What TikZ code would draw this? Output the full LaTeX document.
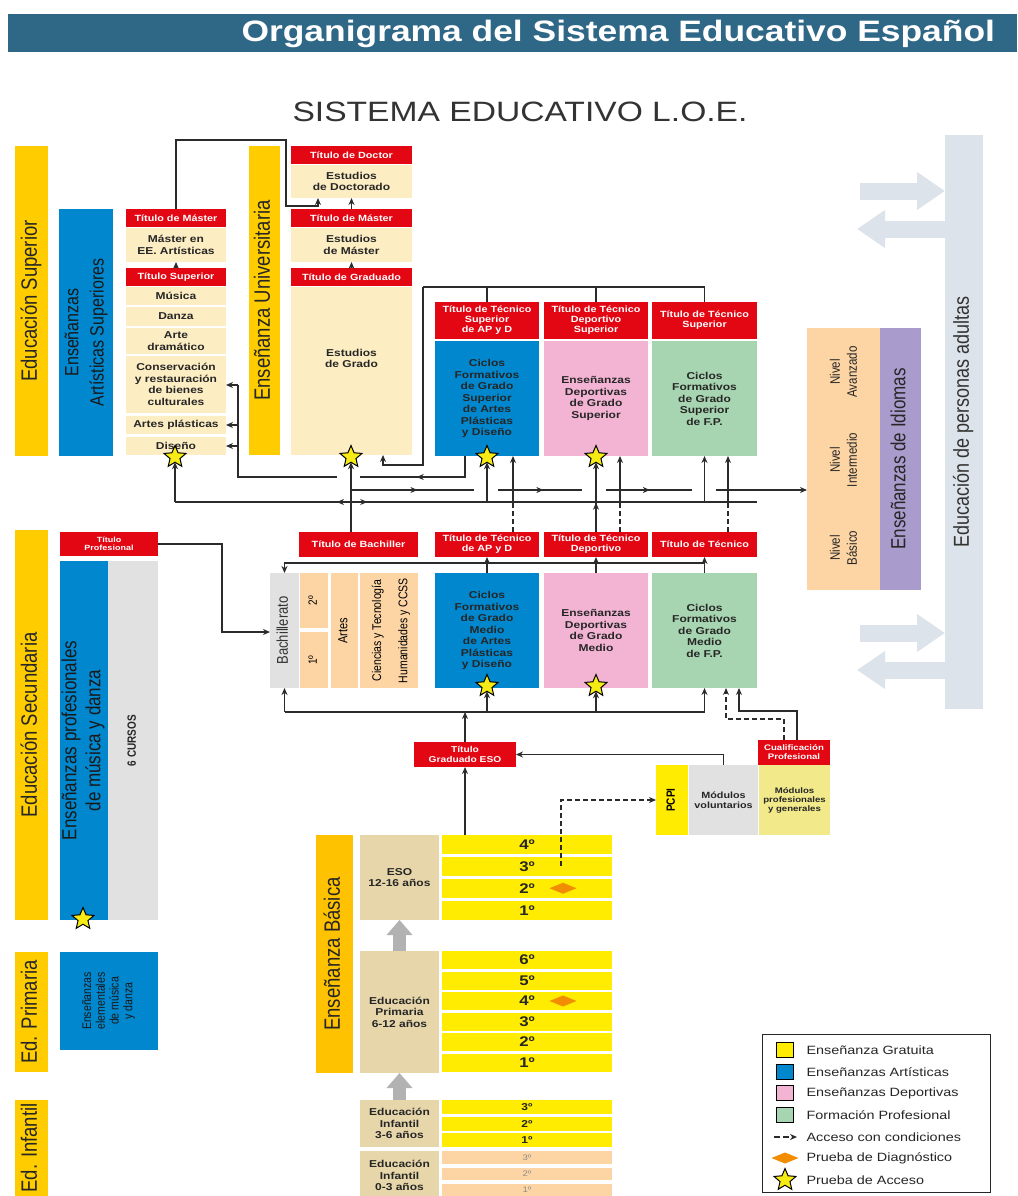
\documentclass[tikz,border=0pt]{standalone}
\usepackage{fontspec}
\setmainfont{Liberation Sans}[FakeStretch=1.2]
\newfontfamily\rotfont{Liberation Sans}
\usepackage{graphicx}
\usetikzlibrary{arrows.meta,positioning,shapes.geometric,decorations.markings}
\definecolor{hdr}{HTML}{2F6887}
\definecolor{tred}{HTML}{E30613}
\definecolor{cream}{HTML}{FDEDC3}
\definecolor{eblue}{HTML}{0087CE}
\definecolor{epink}{HTML}{F3B4D4}
\definecolor{egreen}{HTML}{A8D5B1}
\definecolor{peach}{HTML}{FDD5A5}
\definecolor{etan}{HTML}{E7D6A9}
\definecolor{lyel}{HTML}{FFCC00}
\definecolor{byel}{HTML}{FFC200}
\definecolor{yyel}{HTML}{FFEC00}
\definecolor{khaki}{HTML}{F1E98A}
\definecolor{lgray}{HTML}{E1E1E1}
\definecolor{purp}{HTML}{A99BCB}
\definecolor{adgray}{HTML}{DDE3EA}
\definecolor{dorange}{HTML}{F28C00}
\definecolor{styel}{HTML}{F6EB14}
\definecolor{arrgray}{HTML}{B2B2B2}
\definecolor{lnc}{HTML}{2B2B2B}
\newcommand{\vt}[1]{\rotatebox{90}{\scalebox{1}[1.2]{\begin{tabular}{@{}c@{}}#1\end{tabular}}}}

\begin{document}
\begin{tikzpicture}[x=1pt, y=-1pt,
  every node/.style={inner sep=0pt, outer sep=0pt},
  wh/.style 2 args={minimum width=#1pt, minimum height=#2pt},
  lbar/.style={fill=lyel, text=black!85, font=\rotfont\fontsize{18.5}{22}\selectfont},
  tit/.style={fill=tred, text=white, align=center, font=\bfseries\fontsize{9}{10}\selectfont},
  crm/.style={fill=cream, text=black!85, align=center, font=\bfseries\fontsize{10}{11.5}\selectfont},
  ciclo/.style={text=black!85, align=center, font=\bfseries\fontsize{10}{11.5}\selectfont},
  yr/.style={fill=yyel, minimum width=170pt, text=black!85, font=\bfseries\fontsize{14}{14}\selectfont},
  tanb/.style={fill=etan, minimum width=79pt, align=center, text=black!85, font=\bfseries\fontsize{10}{11.5}\selectfont},
  pacc/.style={star, star points=5, star point ratio=2.2, minimum size=23pt, fill=styel, draw=black, line width=1pt},
  diag/.style={diamond, aspect=2.4, minimum width=27pt, minimum height=11pt, fill=dorange},
  ln/.style={draw=lnc, line width=1.6pt},
  dsh/.style={dash pattern=on 5pt off 3pt},
  arr/.style={ln, -{Stealth[length=7pt, width=6pt]}},
  marr/.style={postaction={decorate}, decoration={markings,
      mark=at position #1 with {\arrow{Stealth[length=7pt, width=6pt]}}}},
  garr/.style={draw=arrgray, line width=13pt, -{Triangle[length=15pt, width=25pt]}},
  bigarr/.style={draw=adgray, line width=17pt, -{Triangle[length=28pt, width=36pt]}},
  lsq/.style={draw=black, line width=1pt, wh={17}{15}},
  ltx/.style={font=\fontsize{12}{12}\selectfont, text=black!85}
]
\fill[white] (0,0) rectangle (1017,1196);
\useasboundingbox (0,0) rectangle (1017,1196);

% heading
\node[fill=hdr, wh={1009}{38}] (hbar) at (512.5,33) {};
\node[anchor=east, text=white, font=\bfseries\fontsize{29.5}{30}\selectfont] (htxt) at (995,34)
  {Organigrama del Sistema Educativo Español};
\node[text=black!80, font=\fontsize{28}{28}\selectfont] (stit) at (520,112)
  {SISTEMA EDUCATIVO L.O.E.};

% stage bars
\node[lbar, wh={33}{310}] (esup) at (31.5,301) {\vt{Educación Superior}};
\node[lbar, wh={33}{390}] (esec) at (31.5,725) {\vt{Educación Secundaria}};
\node[lbar, wh={33}{120}] (epri) at (31.5,1012) {\vt{Ed. Primaria}};
\node[lbar, wh={33}{96}] (einf) at (31.5,1148) {\vt{Ed. Infantil}};

% artistic higher studies
\node[fill=eblue, wh={54}{247}, text=black!90, font=\rotfont\fontsize{16}{21}\selectfont] (artsup)
  at (86,332.5) {\vt{Enseñanzas\\Artísticas Superiores}};
\node[tit, wh={100}{18}] (tMasA) at (176,218) {Título de Máster};
\node[crm, wh={100}{34}] (masA) at (176,245) {Máster en\\EE. Artísticas};
\node[tit, wh={100}{18}] (tSup) at (176,277) {Título Superior};
\node[crm, wh={100}{18}] (mus) at (176,296) {Música};
\node[crm, wh={100}{19}] (dan) at (176,316.5) {Danza};
\node[crm, wh={100}{26}] (arte) at (176,341) {Arte\\dramático};
\node[crm, wh={100}{57}] (cons) at (176,384.5) {Conservación\\y restauración\\de bienes\\culturales};
\node[crm, wh={100}{18}] (artP) at (176,425) {Artes plásticas};
\node[crm, wh={100}{18}] (dis) at (176,446) {Diseño};

% university
\node[lbar, wh={31}{309}] (euniv) at (264.5,300.5) {\vt{Enseñanza Universitaria}};
\node[tit, wh={121}{18}] (tDoc) at (351.5,155) {Título de Doctor};
\node[crm, wh={121}{33}] (doc) at (351.5,181.5) {Estudios\\de Doctorado};
\node[tit, wh={121}{18}] (tMasU) at (351.5,218) {Título de Máster};
\node[crm, wh={121}{34}] (masU) at (351.5,245) {Estudios\\de Máster};
\node[tit, wh={121}{18}] (tGrad) at (351.5,277) {Título de Graduado};
\node[crm, wh={121}{168}] (grado) at (351.5,371) {Estudios\\de Grado\\[14pt]};

% higher vocational cycles
\node[tit, wh={104}{37}] (tTSa) at (487,320.5) {Título de Técnico\\Superior\\de AP y D};
\node[tit, wh={104}{37}] (tTSd) at (596,320.5) {Título de Técnico\\Deportivo\\Superior};
\node[tit, wh={105}{37}] (tTSf) at (704.5,320.5) {Título de Técnico\\Superior};
\node[ciclo, fill=eblue, wh={104}{115}] (ciSa) at (487,398.5)
  {Ciclos\\Formativos\\de Grado\\Superior\\de Artes\\Plásticas\\y Diseño};
\node[ciclo, fill=epink, wh={104}{115}] (ciSd) at (596,398.5)
  {Enseñanzas\\Deportivas\\de Grado\\Superior};
\node[ciclo, fill=egreen, wh={105}{115}] (ciSf) at (704.5,398.5)
  {Ciclos\\Formativos\\de Grado\\Superior\\de F.P.};

% secondary
\node[tit, wh={98}{24}, font=\bfseries\fontsize{7.5}{8.5}\selectfont] (tProf) at (109,544) {Título\\Profesional};
\node[fill=eblue, wh={47}{359}, text=black!90, font=\rotfont\fontsize{17}{20}\selectfont] (epMD)
  at (83.5,740.5) {\vt{Enseñanzas profesionales\\de música y danza}};
\node[fill=lgray, wh={50}{359}, text=black!85, font=\rotfont\bfseries\fontsize{10}{12}\selectfont] (cursos)
  at (133,740.5) {\vt{6 CURSOS}};
\node[fill=eblue, wh={98}{98}, text=black!90, font=\rotfont\fontsize{10.5}{11.5}\selectfont] (elem)
  at (109,1001) {\vt{Enseñanzas\\elementales\\de música\\y danza}};

\node[fill=lgray, wh={29}{115}, text=black!80, font=\rotfont\fontsize{13}{14}\selectfont] (bach)
  at (284.5,630.5) {\vt{Bachillerato}};
\node[fill=peach, wh={28}{55}, font=\rotfont\fontsize{10}{12}\selectfont] (b2) at (314,600.5) {\vt{2º}};
\node[fill=peach, wh={28}{56}, font=\rotfont\fontsize{10}{12}\selectfont] (b1) at (314,660) {\vt{1º}};
\node[fill=peach, wh={27}{115}, font=\rotfont\fontsize{11}{12}\selectfont] (artes) at (344.5,630.5) {\vt{Artes}};
\node[fill=peach, wh={58}{115}, font=\rotfont\fontsize{10.5}{22}\selectfont] (cyt)
  at (389,630.5) {\vt{Ciencias y Tecnología\\Humanidades y CCSS}};
\node[tit, wh={119}{25}] (tBach) at (358.5,544.5) {Título de Bachiller};

\node[tit, wh={104}{25}] (tTA) at (487,544.5) {Título de Técnico\\de AP y D};
\node[tit, wh={104}{25}] (tTD) at (596,544.5) {Título de Técnico\\Deportivo};
\node[tit, wh={105}{25}] (tTF) at (704.5,544.5) {Título de Técnico};
\node[ciclo, fill=eblue, wh={104}{115}] (ciMa) at (487,630.5)
  {Ciclos\\Formativos\\de Grado\\Medio\\de Artes\\Plásticas\\y Diseño};
\node[ciclo, fill=epink, wh={104}{115}] (ciMd) at (596,630.5)
  {Enseñanzas\\Deportivas\\de Grado\\Medio};
\node[ciclo, fill=egreen, wh={105}{115}] (ciMf) at (704.5,630.5)
  {Ciclos\\Formativos\\de Grado\\Medio\\de F.P.};

\node[tit, wh={102}{25}, font=\bfseries\fontsize{8.5}{9.5}\selectfont] (tESO) at (465,754.5) {Título\\Graduado ESO};
\node[tit, wh={72}{25}, font=\bfseries\fontsize{8}{9}\selectfont] (cual) at (794,752.5) {Cualificación\\Profesional};
\node[fill=yyel, wh={32}{70}, font=\rotfont\bfseries\fontsize{10}{12}\selectfont] (pcpi) at (672,800) {\vt{PCPI}};
\node[ciclo, fill=lgray, wh={69}{70}, font=\bfseries\fontsize{9}{10}\selectfont] (mVol) at (723.5,800) {Módulos\\voluntarios};
\node[ciclo, fill=khaki, wh={71}{70}, font=\bfseries\fontsize{8}{9}\selectfont] (mPro) at (794.5,800) {Módulos\\profesionales\\y generales};

% basic education
\node[fill=byel, wh={37}{238}, text=black!85, font=\rotfont\fontsize{18.5}{22}\selectfont] (ebas)
  at (334.5,954) {\vt{Enseñanza Básica}};
\node[tanb, minimum height=85pt] (tESOb) at (399.5,877.5) {ESO\\12-16 años};
\node[tanb, minimum height=122pt] (tPri) at (399.5,1012) {Educación\\Primaria\\6-12 años};
\node[tanb, minimum height=47pt] (tInf1) at (399.5,1123.5) {Educación\\Infantil\\3-6 años};
\node[tanb, minimum height=49pt] (tInf0) at (399.5,1175.5) {Educación\\Infantil\\0-3 años};

\node[yr, minimum height=18.5pt] (eso4) at (527,844.25) {4º};
\node[yr, minimum height=18.5pt] (eso3) at (527,866.25) {3º};
\node[yr, minimum height=18.5pt] (eso2) at (527,888.25) {2º};
\node[yr, minimum height=18.5pt] (eso1) at (527,910.25) {1º};
\node[yr, minimum height=18pt] (pri6) at (527,960) {6º};
\node[yr, minimum height=18pt] (pri5) at (527,980.5) {5º};
\node[yr, minimum height=18pt] (pri4) at (527,1001) {4º};
\node[yr, minimum height=18pt] (pri3) at (527,1021.5) {3º};
\node[yr, minimum height=18pt] (pri2) at (527,1042) {2º};
\node[yr, minimum height=18pt] (pri1) at (527,1062.5) {1º};
\node[yr, minimum height=14pt, font=\bfseries\fontsize{10}{10}\selectfont] (inf3) at (527,1107) {3º};
\node[yr, minimum height=14pt, font=\bfseries\fontsize{10}{10}\selectfont] (inf2) at (527,1124) {2º};
\node[yr, minimum height=14pt, font=\bfseries\fontsize{10}{10}\selectfont] (inf1) at (527,1140) {1º};
\node[yr, fill=peach, minimum height=13pt, text=black!45, font=\fontsize{8}{8}\selectfont] (ini3) at (527,1157.5) {3º};
\node[yr, fill=peach, minimum height=12pt, text=black!45, font=\fontsize{8}{8}\selectfont] (ini2) at (527,1174) {2º};
\node[yr, fill=peach, minimum height=12pt, text=black!45, font=\fontsize{8}{8}\selectfont] (ini1) at (527,1190) {1º};
\node[diag] (dg1) at (563,888.25) {};
\node[diag] (dg2) at (563,1001) {};

% languages and adults
\node[fill=peach, wh={73}{262}] (idiN) at (843.5,459) {};
\node[fill=purp, wh={41}{262}, text=black!85, font=\rotfont\fontsize{17}{20}\selectfont] (idiP)
  at (900.5,459) {\vt{Enseñanzas de Idiomas}};
\node[text=black!85, font=\rotfont\fontsize{11.5}{14}\selectfont] (nB) at (845,548) {\vt{Nivel\\Básico}};
\node[text=black!85, font=\rotfont\fontsize{11.5}{14}\selectfont] (nI) at (845,460) {\vt{Nivel\\Intermedio}};
\node[text=black!85, font=\rotfont\fontsize{11.5}{14}\selectfont] (nA) at (845,372) {\vt{Nivel\\Avanzado}};
\node[fill=adgray, wh={38}{574}, text=black!80, font=\rotfont\fontsize{18}{20}\selectfont] (adult)
  at (964,422) {\vt{Educación de personas adultas}};
\coordinate (kR1) at (860,191);
\coordinate (kR2) at (857,229);
\coordinate (kR3) at (860,633);
\coordinate (kR4) at (857,670);
\draw[bigarr] (kR1) -- (kR1 -| adult.west);
\draw[bigarr] (kR2 -| adult.west) -- (kR2);
\draw[bigarr] (kR3) -- (kR3 -| adult.west);
\draw[bigarr] (kR4 -| adult.west) -- (kR4);

% access tests
\node[pacc] (sDis) at (175,457) {};
\node[pacc] (sGr) at (351,457) {};
\node[pacc] (sTSa) at (487,457) {};
\node[pacc] (sTSd) at (596,457) {};
\node[pacc] (sMa) at (487,686) {};
\node[pacc] (sMd) at (596,686) {};
\node[pacc] (sProf) at (83,919) {};

% junction points
\coordinate (kM1) at (286,140);
\coordinate (kM2) at (318,206);
\coordinate (kT) at (423,287);
\coordinate (kG) at (383,465);
\coordinate (kA0) at (465,477);
\coordinate (kA1) at (360,477);
\coordinate (kA2) at (337,477);
\coordinate (kA3) at (238,385);
\coordinate (kB) at (351,502);
\coordinate (kBl) at (175,502);
\coordinate (kBr) at (757,502);
\coordinate (kI1) at (351,490);
\coordinate (kI2) at (474,490);
\coordinate (kI3) at (498,490);
\coordinate (kI4) at (582,490);
\coordinate (kI5) at (606,490);
\coordinate (kI6) at (692,490);
\coordinate (kI7) at (716,490);
\coordinate (kDa) at (513,502);
\coordinate (kDd) at (620,502);
\coordinate (kDf) at (728,502);
\coordinate (kC) at (284.5,563);
\coordinate (kP) at (222,632);
\coordinate (kE) at (465,712);
\coordinate (kQ1) at (797,711);
\coordinate (kQ2) at (739,711);
\coordinate (kQ3) at (784,719);
\coordinate (kQ4) at (726,719);
\coordinate (kS) at (561,866);

% upper links
\draw[arr] (tMasA.north) |- (kM1) |- (kM2) -- (kM2 |- doc.south);
\draw[arr] (tMasU) -- (doc);
\draw[arr] (tGrad) -- (masU);
\draw[arr] (tSup) -- (masA);
\draw[ln] (tTSf.north) |- (kT);
\draw[ln] (tTSa.north) -- (tTSa.north |- kT);
\draw[ln] (tTSd.north) -- (tTSd.north |- kT);
\draw[arr] (kT) |- (kG) -- (kG |- grado.south);
\draw[ln, marr=0.55] (kA0 |- ciSa.south) -- (kA0) -- (kA1);
\draw[ln] (kA2) -| (kA3);
\draw[arr] (kA3) -- (kA3 -| cons.east);
\draw[arr] (kA3 |- artP) -- (artP);
\draw[arr] (kA3 |- dis) -- (dis);

% from bachiller and technicians
\draw[arr] (sGr |- tBach.north) -- (sGr);
\draw[ln, marr=0.54] (kI1) -- (kI2);
\draw[ln, marr=0.54] (kI3) -- (kI4);
\draw[ln, marr=0.51] (kI5) -- (kI6);
\draw[arr] (kI7) -- (kI7 -| idiN.west);
\draw[ln, marr=0.08] (kB) -- (kBl);
\draw[ln, marr=0.04] (kB) -- (kBr);
\draw[arr] (kBl) -- (sDis);
\draw[arr] (sTSa |- kB) -- (sTSa);
\draw[arr] (ciSf.south |- kB) -- (ciSf.south);
\draw[arr, marr=0.42] (tTD.north) -- (sTSd);
\draw[ln, dsh] (kDa |- tTA.north) -- (kDa);
\draw[arr] (kDa) -- (kDa |- ciSa.south);
\draw[ln, dsh] (kDd |- tTD.north) -- (kDd);
\draw[arr] (kDd) -- (kDd |- ciSd.south);
\draw[ln, dsh] (kDf |- tTF.north) -- (kDf);
\draw[arr] (kDf) -- (kDf |- ciSf.south);

% middle row
\draw[arr] (ciMf.north |- kC) -- (kC) -- (bach.north);
\draw[arr] (ciMa) -- (tTA);
\draw[arr] (ciMd) -- (tTD);
\draw[arr] (ciMf) -- (tTF);
\draw[arr] (tProf.east) -| (kP) -- (kP -| bach.west);

\draw[arr] (tESO) -- (kE);
\draw[ln] (bach.south |- kE) -- (ciMf.south |- kE);
\draw[arr] (bach.south |- kE) -- (bach.south);
\draw[arr] (sMa |- kE) -- (sMa);
\draw[arr] (sMd |- kE) -- (sMd);
\draw[arr] (ciMf.south |- kE) -- (ciMf.south);
\draw[arr] (eso4.north -| tESO) -- (tESO);
\draw[arr] (mVol.north) |- (tESO.east);
\draw[arr] (kQ1 |- cual.north) -- (kQ1) -- (kQ2) -- (kQ2 |- ciMf.south);
\draw[arr, dsh] (kQ3 |- cual.north) -- (kQ3) -- (kQ4) -- (kQ4 |- ciMf.south);
\draw[arr, dsh] (kS) |- (pcpi.west);

\draw[garr] (tPri.north) -- (tESOb.south);
\draw[garr] (tInf1.north) -- (tPri.south);

% legend
\node[draw=black!85, line width=1pt, wh={228}{158}] (leg) at (876,1113) {};
\node[lsq, fill=yyel] (lq1) at (785,1050) {};
\node[ltx, right=13pt of lq1] (lt1) {Enseñanza Gratuita};
\node[lsq, fill=eblue] (lq2) at (785,1072) {};
\node[ltx, right=13pt of lq2] (lt2) {Enseñanzas Artísticas};
\node[lsq, fill=epink] (lq3) at (785,1093) {};
\node[ltx, right=13pt of lq3] (lt3) {Enseñanzas Deportivas};
\node[lsq, fill=egreen] (lq4) at (785,1115) {};
\node[ltx, right=13pt of lq4] (lt4) {Formación Profesional};
\coordinate (lc5a) at (774,1137);
\coordinate (lc5b) at (797,1137);
\draw[arr, dash pattern=on 6pt off 3pt] (lc5a) -- (lc5b);
\node[ltx, anchor=west] (lt5) at (lt4.west |- lc5a) {Acceso con condiciones};
\node[diag] (ld6) at (785,1158) {};
\node[ltx, anchor=west] (lt6) at (lt4.west |- ld6) {Prueba de Diagnóstico};
\node[pacc] (ls7) at (785,1180) {};
\node[ltx, anchor=west] (lt7) at (lt4.west |- ls7) {Prueba de Acceso};
\end{tikzpicture}
\end{document}
